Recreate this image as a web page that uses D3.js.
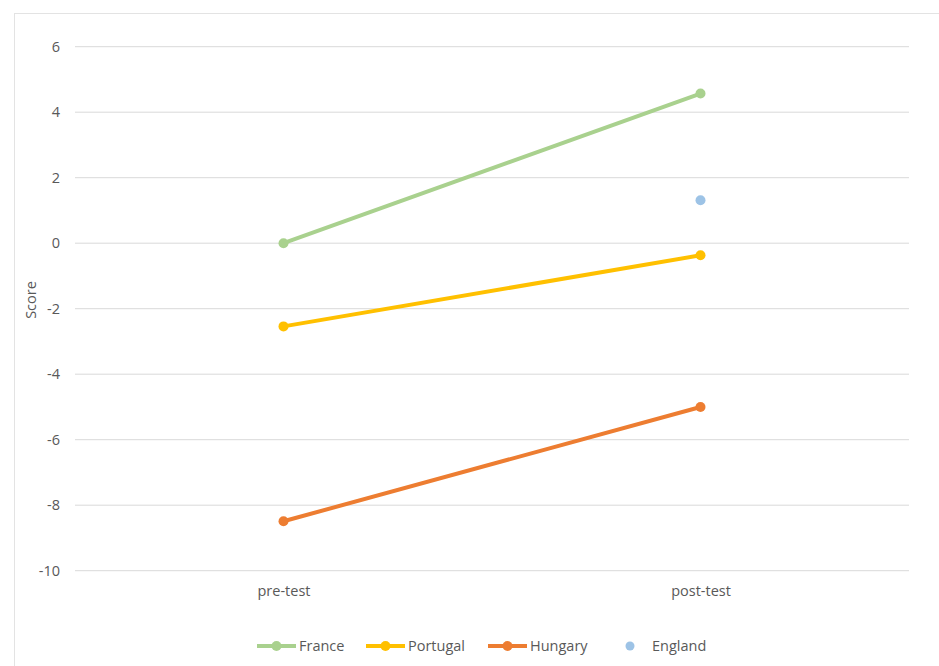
<!DOCTYPE html>
<html>
<head>
<meta charset="utf-8">
<script src="https://cdn.jsdelivr.net/npm/d3@7"></script>
<style>
  body { margin: 0; background: #fff; }
  text { font-family: "Open Sans", "Noto Sans", sans-serif; fill: #595959; }
</style>
</head>
<body>
<div id="chart"></div>
<script>
const phases = ['pre-test', 'post-test'];
const france = [0, 4.57];
const portugal = [-2.54, -0.37];
const hungary = [-8.49, -5.0];
const england = [null, 1.31];
const yTicks = [-10, -8, -6, -4, -2, 0, 2, 4, 6];

const series = [
     {name: 'France', values: france, colour: '#A9D18E', line: true},
     {name: 'Portugal', values: portugal, colour: '#FFC000', line: true},
     {name: 'Hungary', values: hungary, colour: '#ED7D31', line: true},
     {name: 'England', values: england, colour: '#9DC3E6', line: false}
];

const width = 939;
const height = 666;
const plotLeft = 75, plotRight = 909;
const plotTop = 46.7, plotBottom = 570.7;
const fontSize = '14.5px';

const svg = d3.select('#chart')
     .append('svg')
          .attr('width', width)
          .attr('height', height);

// chart frame
svg.append('rect')
     .attr('x', 14.5)
     .attr('y', 13.5)
     .attr('width', 940)
     .attr('height', 700)
     .attr('fill', 'none')
     .attr('stroke', '#e3e3e3');

const x = d3.scalePoint()
     .domain(phases)
     .range([plotLeft, plotRight])
     .padding(0.5);

const y = d3.scaleLinear()
     .domain([-10, 6])
     .range([plotBottom, plotTop]);

// gridlines
svg.append('g')
     .selectAll('line')
     .data(yTicks)
     .enter()
          .append('line')
               .attr('x1', plotLeft)
               .attr('x2', plotRight)
               .attr('y1', d => y(d))
               .attr('y2', d => y(d))
               .attr('stroke', '#d9d9d9')
               .attr('stroke-width', 1);

// y-axis labels (plain hyphen for negatives, like the original)
const yAxis = svg.append('g')
     .attr('transform', `translate(${plotLeft - 15}, 0)`)
     .call(d3.axisLeft(y).tickValues(yTicks).tickSize(0).tickPadding(0).tickFormat(d => String(d)));
yAxis.select('.domain').remove();
yAxis.selectAll('text')
     .style('font-family', '"Open Sans", "Noto Sans", sans-serif')
     .style('font-size', fontSize)
     .attr('fill', '#595959');

// x-axis labels
const xAxis = svg.append('g')
     .attr('transform', `translate(0, ${plotBottom + 15})`)
     .call(d3.axisBottom(x).tickSize(0).tickPadding(0));
xAxis.select('.domain').remove();
xAxis.selectAll('text')
     .style('font-family', '"Open Sans", "Noto Sans", sans-serif')
     .style('font-size', fontSize)
     .attr('fill', '#595959');

// axis title
svg.append('text')
     .attr('transform', 'translate(36, 300) rotate(-90)')
     .attr('text-anchor', 'middle')
     .style('font-size', fontSize)
     .text('Score');

const line = d3.line()
     .defined(d => d !== null)
     .x((d, i) => x(phases[i]))
     .y(d => y(d));

series.forEach(s => {
     if (s.line) {
          svg.append('path')
               .datum(s.values)
               .attr('d', line)
               .attr('fill', 'none')
               .attr('stroke', s.colour)
               .attr('stroke-width', 4)
               .attr('stroke-linecap', 'round');
     }
     svg.append('g')
          .selectAll('circle')
          .data(s.values.map((v, i) => ({v: v, p: phases[i]})).filter(d => d.v !== null))
          .enter()
               .append('circle')
                    .attr('cx', d => x(d.p))
                    .attr('cy', d => y(d.v))
                    .attr('r', 5)
                    .attr('fill', s.colour);
});

// legend
const legendPos = [257, 366, 488, 605];
const legend = svg.append('g')
     .attr('transform', 'translate(0, 646)');

series.forEach((s, i) => {
     let g = legend.append('g')
          .attr('transform', `translate(${legendPos[i]}, 0)`);
     if (s.line) {
          g.append('line')
               .attr('x1', 0)
               .attr('x2', 39)
               .attr('stroke', s.colour)
               .attr('stroke-width', 4);
          g.append('circle')
               .attr('cx', 19.5)
               .attr('r', 5)
               .attr('fill', s.colour);
          g.append('text')
               .attr('x', 42)
               .attr('dy', '0.35em')
               .style('font-size', fontSize)
               .text(s.name);
     } else {
          g.append('circle')
               .attr('cx', 25)
               .attr('r', 4.5)
               .attr('fill', s.colour);
          g.append('text')
               .attr('x', 47)
               .attr('dy', '0.35em')
               .style('font-size', fontSize)
               .text(s.name);
     }
});
</script>
</body>
</html>
